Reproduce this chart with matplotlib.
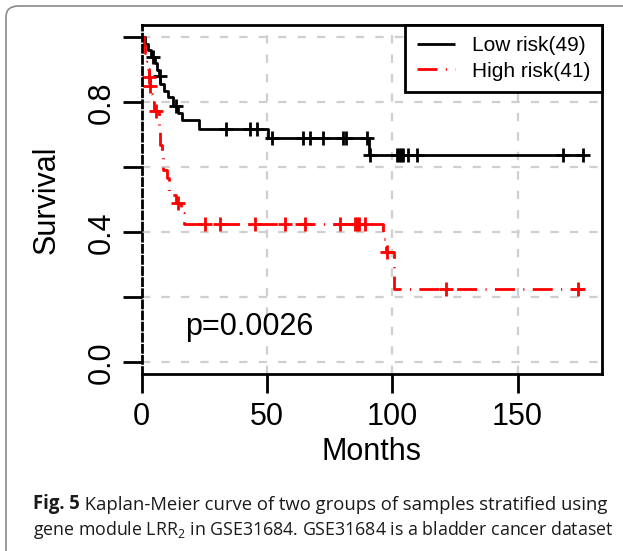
import matplotlib
matplotlib.use("Agg")
import matplotlib.pyplot as plt
import numpy as np
from matplotlib.patches import FancyBboxPatch

plt.rcParams["font.family"] = ["Liberation Sans", "DejaVu Sans"]
plt.rcParams["lines.scale_dashes"] = False
plt.rcParams["mathtext.fontset"] = "custom"
plt.rcParams["mathtext.rm"] = "Open Sans"

# Kaplan-Meier steps (months, survival)
low_times = [0, 1.2, 2.5, 3.8, 5.2, 6.0, 6.8, 7.5, 8.8, 10.5, 12.6, 14.6, 16.0, 22.9, 50.5, 90.7]
low_surv = [1.0, 0.98, 0.96, 0.94, 0.92, 0.90, 0.88, 0.855, 0.835, 0.815, 0.79, 0.766, 0.746, 0.718, 0.689, 0.638]
low_censor = [4.5, 7.2, 13.8, 33.5, 43.2, 46.1, 51.9, 64.5, 67.2, 72.5, 80.4, 81.5, 89.8, 91.1,
              101.7, 102.5, 103.3, 104.2, 106.4, 109.7, 168.2, 176.2]
low_end = 176.5

high_times = [0, 1.0, 1.5, 2.0, 2.5, 3.0, 3.2, 3.8, 4.2, 5.0, 7.0, 7.4, 8.0, 8.5, 10.0, 11.0,
              13.5, 15.5, 16.8, 96.2, 97.5, 100.7]
high_surv = [1.0, 0.976, 0.951, 0.927, 0.902, 0.878, 0.849, 0.826, 0.80, 0.774, 0.722, 0.670,
             0.645, 0.593, 0.567, 0.515, 0.489, 0.458, 0.425, 0.378, 0.340, 0.227]
high_censor = [3.0, 3.4, 5.8, 14.5, 25.3, 31.2, 45.2, 57.2, 65.2, 79.1, 85.1, 86.0, 86.8, 89.1,
               98.0, 121.3, 174.2]
high_end = 176.5

labels = ["Low risk(49)", "High risk(41)"]
p_text = "p=0.0026"
x_ticks = [0, 50, 100, 150]
y_ticks = [0.0, 0.2, 0.4, 0.6, 0.8, 1.0]
y_ticklabels = ["0.0", "", "0.4", "", "0.8", ""]
caption_bold = "Fig. 5"
caption_1 = " Kaplan-Meier curve of two groups of samples stratified using"
caption_2 = "gene module LRR$_\\mathrm{2}$ in GSE31684. GSE31684 is a bladder cancer dataset"

RED_DASH = (0, (14.4, 6.0, 0.8, 6.0))


def km(ax, times, surv, censor, end, color, ls, label):
    t = np.array(times + [end])
    s = np.array(surv + [surv[-1]])
    ax.step(t, s, where="post", color=color, lw=2.0, linestyle=ls, label=label,
            solid_capstyle="butt")
    c = np.array(censor)
    cs = np.array(surv)[np.searchsorted(times, c, side="right") - 1]
    ax.plot(c, cs, ls="none", marker="+", ms=10, mew=2.0, color=color)


fig = plt.figure(figsize=(6.23, 5.51), dpi=100)
ax = fig.add_axes([141.7 / 623, 1 - 374 / 551, (602 - 141.7) / 623, (374 - 25) / 551])

# figure frame of the journal panel
frame = FancyBboxPatch((6 / 623, -0.2), 1.2, 1.2 - 6 / 551,
                       boxstyle="round,pad=0,rounding_size=0.02",
                       transform=fig.transFigure, fill=False, ec="#8a8a8a", lw=1.2)
fig.patches.append(frame)

ax.grid(True, color="#cfcfcf", lw=1.6, linestyle=(0, (6, 8)))
ax.set_axisbelow(True)

km(ax, low_times, low_surv, low_censor, low_end, "black", "-", labels[0])
km(ax, high_times, high_surv, high_censor, high_end, "#ff0000", RED_DASH, labels[1])

ax.set_xlim(0, 183.7)
ax.set_ylim(-0.036, 1.038)
ax.set_xticks(x_ticks)
ax.set_yticks(y_ticks)
ax.set_yticklabels(y_ticklabels, rotation=90, va="center")
ax.tick_params(axis="both", length=14, width=2.0, labelsize=22, color="black")
ax.tick_params(axis="x", pad=6)
ax.tick_params(axis="y", pad=4)
for sp in ax.spines.values():
    sp.set_linewidth(2.0)
ax.spines["left"].set_linestyle((0, (5, 3)))

ax.set_xlabel("Months", fontsize=22, labelpad=4)
ax.set_ylabel("Survival", fontsize=22, labelpad=18)

ax.text(17.3, 0.11, p_text, fontsize=22, ha="left", va="center")

leg = ax.legend(loc="upper right", borderaxespad=0, fontsize=15, handlelength=1.85,
                handletextpad=0.8, labelspacing=0.3, borderpad=0.55, fancybox=False,
                framealpha=1, edgecolor="black")
leg.get_frame().set_linewidth(2.0)

# caption, sized so each line ends where it does in the print
cap_font = ["Open Sans", "DejaVu Sans"]
renderer = fig.canvas.get_renderer()
x0 = 33
t1 = fig.text(x0 / 623, 1 - 509 / 551, caption_bold, fontsize=13, fontweight="bold",
              family=cap_font, va="baseline", color="#1a1a1a")
t1b = ax.annotate(caption_1, xy=(1, 0), xycoords=t1, va="bottom", ha="left", fontsize=13,
                  family=cap_font, annotation_clip=False, color="#1a1a1a")
t2 = fig.text(x0 / 623, 1 - 535 / 551, caption_2, fontsize=13, family=cap_font,
              va="baseline", color="#1a1a1a")

w1 = t1.get_window_extent(renderer).width + t1b.get_window_extent(renderer).width
k1 = (605 - x0) / w1
t1.set_fontsize(13 * k1)
t1b.set_fontsize(13 * k1)
w2 = t2.get_window_extent(renderer).width
t2.set_fontsize(13 * (612 - x0) / w2)

fig.savefig("out.png", dpi=100)
